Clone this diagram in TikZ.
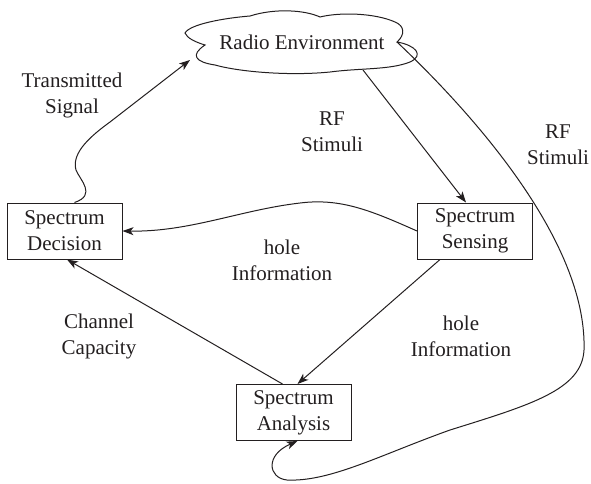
\documentclass[tikz,border=0pt]{standalone}
\usepackage{fontspec}
\setmainfont{Liberation Serif}
\usetikzlibrary{arrows.meta}
\definecolor{ink}{HTML}{231F20}
\begin{document}
\begin{tikzpicture}[x=1pt,y=-1pt,
  every node/.style={text=ink,font=\fontsize{21}{26}\selectfont,align=center},
  box/.style={draw=ink,line width=1pt,minimum width=115pt,minimum height=56pt,inner sep=0pt},
  lbl/.style={inner sep=0pt},
  link/.style={draw=ink,line width=1pt},
  arr/.style={link,-{Stealth[length=11pt,width=8pt,inset=3pt]}}]
\useasboundingbox (0,0) rectangle (591,483);

% cloud outline of the radio environment
\draw[ink,line width=1pt]
  (185,33) .. controls (190,24) and (225,18) .. (250,16)
  .. controls (275,8) and (305,10) .. (320,17)
  .. controls (340,12) and (375,13) .. (395,22)
  .. controls (405,26) and (405,35) .. (397,42)
  .. controls (415,45) and (425,55) .. (410,62)
  .. controls (390,70) and (360,68) .. (330,72)
  .. controls (290,76) and (240,72) .. (215,65)
  .. controls (195,62) and (190,55) .. (205,45)
  .. controls (195,42) and (187,38) .. cycle;
\node (env) at (302,42) {Radio Environment};
\coordinate (envSW) at (190,60);
\coordinate (envS) at (363,70);
\coordinate (envE) at (397,42);

% the three processing blocks
\node[box] (dec) at (64.5,231) {Spectrum\\Decision};
\node[box] (sen) at (475,231) {Spectrum\\Sensing};
\node[box] (ana) at (293.5,412.5) {Spectrum\\Analysis};

% labels
\node[lbl] (ltx) at (72,95) {Transmitted\\Signal};
\node[lbl] (lrf1) at (332,132) {RF\\Stimuli};
\node[lbl] (lrf2) at (558,145) {RF\\Stimuli};
\node[lbl] (lhole1) at (282,260) {hole\\Information};
\node[lbl] (lcap) at (99,336) {Channel\\Capacity};
\node[lbl] (lhole2) at (461,336) {hole\\Information};

% connectors
\draw[arr] ([xshift=10pt]dec.north) .. controls (97,195) and (80,180) .. (76,170)
  .. controls (72,155) and (85,140) .. (110,122) -- (envSW);
\draw[arr] (envS) -- ([xshift=-9pt]sen.north);
\draw[arr] (sen.west) .. controls (370,210) and (340,198) .. (300,203)
  .. controls (240,210) and (190,232) .. (dec.east);
\draw[arr] ([xshift=-35pt]sen.south) -- ([xshift=4pt]ana.north);
\draw[arr] ([xshift=-11pt]ana.north) -- ([xshift=2.5pt]dec.south);
\draw[arr] (envE) .. controls (490,130) and (587,250) .. (584,350)
  .. controls (582,390) and (530,405) .. (450,430)
  .. controls (380,455) and (330,482) .. (287,480)
  .. controls (268,478) and (265,455) .. ([xshift=4pt]ana.south);
\end{tikzpicture}
\end{document}
